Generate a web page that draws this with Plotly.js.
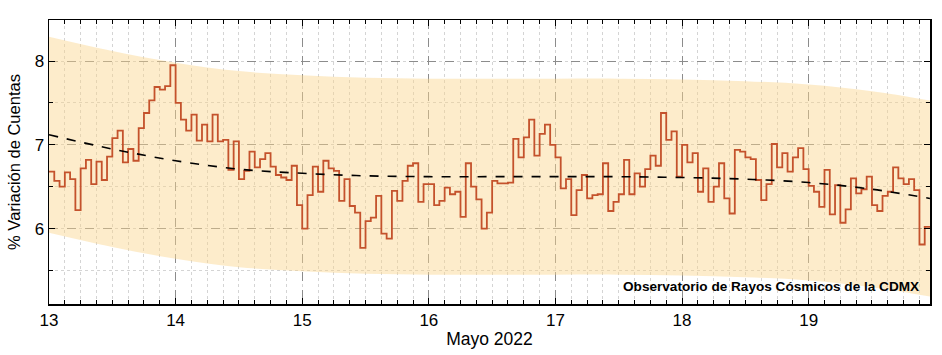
<!DOCTYPE html>
<html>
<head>
<meta charset="utf-8">
<script src="https://cdn.plot.ly/plotly-3.0.1.min.js"></script>
<style>html,body{margin:0;padding:0;background:#fff}#chart{width:942px;height:355px}</style>
</head>
<body>
<div id="chart"></div>
<script>
// Hourly count variation (%), May 13 00h .. May 19 23h, 2022
const startDay = 13;
const hourlyValues = [
  6.68, 6.57, 6.50, 6.67, 6.59, 6.22, 6.72, 6.82, 6.53, 6.80, 6.58, 6.86, 7.08, 7.17, 6.79, 6.95, 6.81, 7.20, 7.38, 7.53, 7.69, 7.66, 7.70, 7.95,
  7.50, 7.30, 7.17, 7.36, 7.05, 7.24, 7.04, 7.36, 7.04, 7.06, 6.70, 7.04, 6.59, 6.69, 6.92, 6.73, 6.83, 6.90, 6.74, 6.64, 6.61, 6.58, 6.75, 6.28,
  6.00, 6.40, 6.74, 6.44, 6.81, 6.72, 6.69, 6.33, 6.59, 6.27, 6.19, 5.77, 6.09, 6.13, 6.39, 5.94, 5.88, 6.45, 6.33, 6.57, 6.75, 6.78, 6.32, 6.53,
  6.53, 6.28, 6.33, 6.49, 6.41, 6.44, 6.14, 6.78, 6.50, 6.35, 6.00, 6.19, 6.57, 6.54, 6.54, 6.55, 7.07, 6.85, 7.09, 7.30, 6.87, 7.13, 7.24, 7.00,
  6.85, 6.48, 6.59, 6.16, 6.46, 6.64, 6.36, 6.40, 6.41, 6.78, 6.21, 6.32, 6.41, 6.82, 6.41, 6.66, 6.50, 6.71, 6.87, 6.75, 7.38, 7.06, 7.16, 6.62,
  7.00, 6.79, 6.90, 6.44, 6.72, 6.32, 6.50, 6.78, 6.36, 6.18, 6.94, 6.92, 6.85, 6.83, 6.58, 6.34, 6.53, 7.01, 6.73, 6.90, 6.68, 6.85, 6.96, 6.71,
  6.51, 6.44, 6.26, 6.70, 6.17, 6.52, 6.07, 6.23, 6.60, 6.42, 6.47, 6.62, 6.28, 6.21, 6.39, 6.44, 6.73, 6.60, 6.53, 6.59, 6.46, 5.81, 6.02, 6.02
];
// Trend curve and confidence band, read at half-day points
const trendDays  = [13, 13.5, 14, 14.5, 15, 15.5, 16, 16.5, 17, 17.5, 18, 18.5, 19, 19.5, 19.958];
const trendVals  = [7.12, 6.95, 6.81, 6.71, 6.66, 6.63, 6.62, 6.62, 6.62, 6.62, 6.61, 6.59, 6.55, 6.47, 6.36];
const bandUpper  = [8.29, 8.12, 7.98, 7.88, 7.83, 7.80, 7.79, 7.79, 7.79, 7.79, 7.78, 7.76, 7.72, 7.64, 7.53];
const bandLower  = [5.95, 5.78, 5.64, 5.54, 5.49, 5.46, 5.45, 5.45, 5.45, 5.45, 5.44, 5.42, 5.38, 5.30, 5.19];
const dayTicks   = [13, 14, 15, 16, 17, 18, 19];
const yTicks     = [6, 7, 8];

const hourX = hourlyValues.map((_, i) => startDay + i / 24);

const narrow = 'Liberation Sans Narrow, Arial Narrow, Liberation Sans, Arial, sans-serif';

const traces = [
  {x: trendDays, y: bandUpper, mode: 'lines', line: {width: 0, shape: 'spline'}, hoverinfo: 'skip', showlegend: false},
  {x: trendDays, y: bandLower, mode: 'lines', line: {width: 0, shape: 'spline'}, fill: 'tonexty',
   fillcolor: 'rgba(250,212,140,0.45)', hoverinfo: 'skip', showlegend: false},
  {x: hourX, y: hourlyValues, mode: 'lines', line: {color: '#c4522c', width: 1.8, shape: 'hv'}, showlegend: false},
  {x: trendDays, y: trendVals, mode: 'lines', line: {color: '#000', width: 1.6, dash: 'dash', shape: 'spline'}, showlegend: false}
];

const layout = {
  width: 942, height: 355,
  margin: {l: 49, r: 12, t: 20, b: 51},
  paper_bgcolor: '#fff', plot_bgcolor: '#fff',
  font: {family: narrow, color: '#000', size: 17},
  showlegend: false,
  xaxis: {
    range: [startDay, startDay + (hourlyValues.length - 1) / 24],
    tickvals: dayTicks, ticktext: dayTicks.map(String),
    ticks: 'inside', ticklen: 6, tickcolor: '#000', tickwidth: 1,
    showline: true, linecolor: '#000', linewidth: 1.5, mirror: 'allticks',
    showgrid: true, gridcolor: '#8c8c8c', griddash: 'dash', gridwidth: 1,
    zeroline: false,
    minor: {dtick: 0.125, tick0: 13, showgrid: true, gridcolor: '#d4d4d4', griddash: 'dot', gridwidth: 1,
            ticks: 'inside', ticklen: 4, tickcolor: '#000'},
    tickfont: {family: narrow, size: 17},
    title: {text: 'Mayo 2022', font: {family: narrow, size: 17.5}, standoff: 4}
  },
  yaxis: {
    range: [5.1, 8.49],
    tickvals: yTicks, ticktext: yTicks.map(String),
    ticks: 'inside', ticklen: 6, tickcolor: '#000', tickwidth: 1,
    showline: true, linecolor: '#000', linewidth: 1.5, mirror: 'allticks',
    showgrid: true, gridcolor: '#8c8c8c', griddash: 'dash', gridwidth: 1,
    zeroline: false,
    minor: {dtick: 0.5, tick0: 5, showgrid: true, gridcolor: '#d4d4d4', griddash: 'dot', gridwidth: 1,
            ticks: 'inside', ticklen: 4, tickcolor: '#000'},
    tickfont: {family: narrow, size: 17},
    title: {text: '% Variación de Cuentas', font: {family: 'Liberation Sans, Arial, sans-serif', size: 16.5}, standoff: 10}
  },
  annotations: [{
    xref: 'paper', yref: 'paper', x: 1, y: 0.06, xanchor: 'right', yanchor: 'middle', xshift: -9,
    text: '<b>Observatorio de Rayos Cósmicos de la CDMX</b>', showarrow: false,
    font: {family: narrow, size: 13.6, color: '#000'}
  }]
};

Plotly.newPlot('chart', traces, layout, {staticPlot: true, displayModeBar: false});
</script>
</body>
</html>
